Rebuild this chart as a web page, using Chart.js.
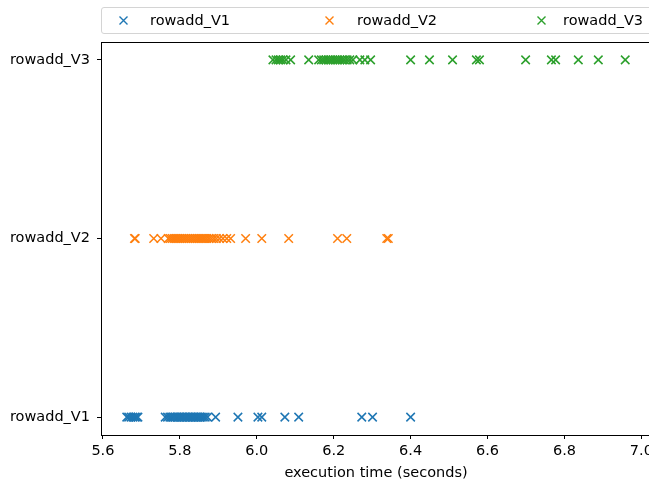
<!DOCTYPE html>
<html>
<head>
<meta charset="utf-8">
<script src="https://cdn.jsdelivr.net/npm/chart.js@4.4.1/dist/chart.umd.min.js"></script>
<style>
  html, body { margin: 0; padding: 0; background: #fff; overflow: hidden; width: 649px; height: 482px; }
  #wrap { position: relative; width: 649px; height: 482px; overflow: hidden; }
  #c { position: absolute; left: 0; top: 0; }
  #legend { position: absolute; left: 101px; top: 7px; width: 560px; height: 25px;
            border: 1px solid #d4d4d4; border-radius: 3px; background: rgba(255,255,255,0.8);
            font-family: "DejaVu Sans", sans-serif; font-size: 14.5px; color: #000; }
  .li { position: absolute; top: 0; height: 25px; line-height: 25px; white-space: nowrap; }
  .mk { position: absolute; top: 8px; width: 9px; height: 9px; }
</style>
</head>
<body>
<div id="wrap">
  <canvas id="c" width="680" height="482"></canvas>
  <div id="legend"></div>
</div>
<script>
// ---- data ----
const categories = ['rowadd_V1', 'rowadd_V2', 'rowadd_V3'];
const xTicks = [5.6, 5.8, 6.0, 6.2, 6.4, 6.6, 6.8, 7.0];
const xLabel = 'execution time (seconds)';

const rowadd_V1 = [
  5.662, 5.667, 5.673, 5.678, 5.683, 5.687, 5.691,
  5.762, 5.768, 5.774, 5.778, 5.783, 5.787, 5.792, 5.796, 5.800, 5.804,
  5.808, 5.812, 5.816, 5.820, 5.824, 5.828, 5.832, 5.836, 5.840, 5.844,
  5.848, 5.852, 5.856, 5.861, 5.866, 5.872, 5.893,
  5.951, 6.003, 6.013, 6.073, 6.109, 6.273, 6.301, 6.400
];
const rowadd_V2 = [
  5.682, 5.684,
  5.732, 5.751, 5.770, 5.775, 5.780, 5.785, 5.790, 5.795, 5.800, 5.805,
  5.810, 5.815, 5.820, 5.825, 5.830, 5.835, 5.840, 5.845, 5.850, 5.855,
  5.860, 5.865, 5.870, 5.876, 5.882, 5.888, 5.895, 5.903, 5.912, 5.922, 5.932,
  5.971, 6.013, 6.083, 6.210, 6.234, 6.338, 6.342
];
const rowadd_V3 = [
  6.042, 6.050, 6.056, 6.062, 6.068, 6.076, 6.088,
  6.135,
  6.161, 6.168, 6.174, 6.180, 6.186, 6.192, 6.198, 6.204, 6.210, 6.216,
  6.222, 6.228, 6.235, 6.242, 6.250, 6.268, 6.281, 6.296,
  6.400, 6.449, 6.509, 6.571, 6.579, 6.699, 6.766, 6.777, 6.836, 6.888, 6.958
];
const seriesValues = [rowadd_V1, rowadd_V2, rowadd_V3];
const colors = ['#1f77b4', '#ff7f0e', '#2ca02c'];

// ---- chart ----
const FONT = { family: 'DejaVu Sans', size: 14.5 };

const datasets = categories.map((name, i) => ({
  label: name,
  data: seriesValues[i].map(v => ({ x: v, y: i })),
  showLine: false,
  pointStyle: 'crossRot',
  pointRadius: 6,
  pointHoverRadius: 6,
  borderWidth: 1.5,
  pointBorderWidth: 1.5,
  borderColor: colors[i],
  backgroundColor: colors[i]
}));

const frame = {
  id: 'frame',
  afterDraw(chart) {
    const a = chart.chartArea, ctx = chart.ctx;
    ctx.save();
    ctx.strokeStyle = '#000';
    ctx.lineWidth = 1;
    ctx.strokeRect(Math.round(a.left) + 0.5, Math.round(a.top) + 0.5,
                   Math.round(a.right - a.left), Math.round(a.bottom - a.top));
    ctx.restore();
  }
};

const chart = new Chart(document.getElementById('c'), {
  type: 'scatter',
  data: { datasets },
  plugins: [frame],
  options: {
    responsive: false,
    animation: false,
    devicePixelRatio: 1,
    layout: { padding: { top: 42, right: 29, left: 0, bottom: 0 } },
    plugins: { legend: { display: false }, tooltip: { enabled: false } },
    scales: {
      x: {
        type: 'linear',
        min: 5.595, max: 7.025,
        afterBuildTicks: s => { s.ticks = xTicks.map(v => ({ value: v })); },
        afterFit: s => { s.height = 47; },
        ticks: { font: FONT, color: '#000', padding: 4, maxRotation: 0,
                 callback: v => v.toFixed(1) },
        grid: { drawOnChartArea: false, drawTicks: true, tickLength: 4, color: '#000', tickWidth: 1 },
        border: { display: true, color: '#000' },
        title: { display: true, text: xLabel, font: FONT, color: '#000', padding: { top: 1, bottom: 0 } }
      },
      y: {
        type: 'linear',
        min: -0.1, max: 2.1,
        afterBuildTicks: s => { s.ticks = categories.map((c, i) => ({ value: i })); },
        afterFit: s => { s.width = 101; },
        ticks: { font: FONT, color: '#000', padding: 7,
                 callback: v => categories[v] },
        grid: { drawOnChartArea: false, drawTicks: true, tickLength: 4, color: '#000', tickWidth: 1 },
        border: { display: true, color: '#000' }
      }
    }
  }
});

// ---- HTML legend built from the chart's datasets ----
const legend = document.getElementById('legend');
const markX = [21, 227, 439];
const textX = [48, 255, 461];
chart.data.datasets.forEach((ds, i) => {
  const it = document.createElement('div');
  it.className = 'li';
  it.style.left = textX[i] + 'px';
  it.textContent = ds.label;
  legend.appendChild(it);
  const svgNS = 'http://www.w3.org/2000/svg';
  const svg = document.createElementNS(svgNS, 'svg');
  svg.setAttribute('class', 'mk');
  svg.setAttribute('viewBox', '0 0 9 9');
  svg.style.left = (markX[i] - 4.5) + 'px';
  svg.innerHTML = '<path d="M0.5 0.5 L8.5 8.5 M8.5 0.5 L0.5 8.5" stroke="' + ds.borderColor + '" stroke-width="1.4" fill="none"/>';
  legend.appendChild(svg);
});
</script>
</body>
</html>
